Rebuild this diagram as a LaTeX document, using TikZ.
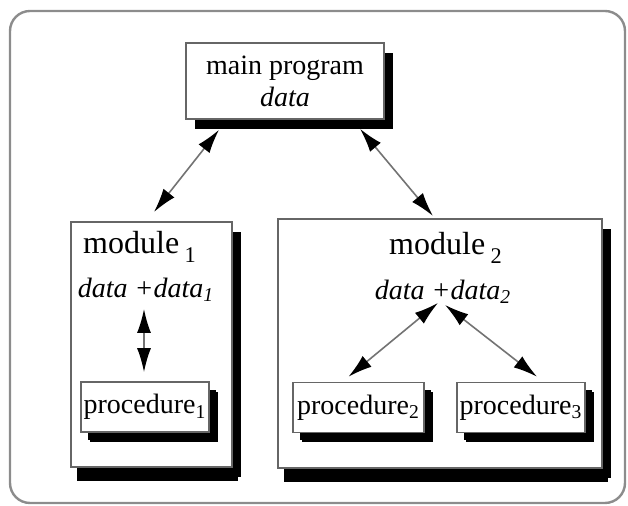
\documentclass[tikz,border=0pt]{standalone}
\usepackage{fontspec}
\setmainfont{Liberation Serif}
\usetikzlibrary{arrows.meta,shadows}

\tikzset{
	frame/.style={draw=black!45, line width=1.2pt, rounded corners=10pt},
	box/.style={draw=black!60, line width=0.8pt, fill=white, inner sep=0pt,
		drop shadow={shadow xshift=4.5pt, shadow yshift=-5pt, fill=black, opacity=1}},
	bigbox/.style={box, line width=1pt,
		drop shadow={shadow xshift=3pt, shadow yshift=-7pt, fill=black, opacity=1}},
	proc/.style={box, minimum height=25pt,
		drop shadow={shadow xshift=3.5pt, shadow yshift=-4pt, fill=black, opacity=1}},
	title/.style={font=\fontsize{16}{18}\selectfont},
	link/.style={draw=black!55, line width=0.8pt,
		{Latex[length=12pt,width=7pt,black]}-{Latex[length=12pt,width=7pt,black]}}
}

\begin{document}
\begin{tikzpicture}[x=0.5pt, y=-0.5pt, font=\fontsize{14}{16}\selectfont]
		\useasboundingbox (0,0) rectangle (628,506);
		\draw[frame] (10,11) rectangle (625,503);
		% boxes
		\node[box, minimum width=99pt, minimum height=38pt, align=center] (main) at (285,81) {main program\\\textit{data}};
		\node[bigbox, minimum width=80.5pt, minimum height=122.5pt] (mod1) at (151.5,344.5) {};
		\node[bigbox, minimum width=162pt, minimum height=124.5pt] (mod2) at (440,343.5) {};
		\node[proc, minimum width=64pt] (p1) at (145,407) {procedure\textsubscript{1}};
		\node[proc, minimum width=65.5pt] (p2) at (358.5,407.5) {procedure\textsubscript{2}};
		\node[proc, minimum width=64pt] (p3) at (521,407.5) {procedure\textsubscript{3}};
		% labels
		\node[title] (t1) at (140,247) {module\,\raisebox{-2pt}{\textsubscript{1}}};
		\node (d1) at (146,290) {\textit{data +data\textsubscript{1}}};
		\node[title] (t2) at (446,248) {module\,\raisebox{-2pt}{\textsubscript{2}}};
		\node (d2) at (443,292) {\textit{data +data\textsubscript{2}}};
		% arrows
		\draw[link] ([xshift=-33pt,yshift=-5pt]main.south) -- ([xshift=1.25pt,yshift=4.5pt]mod1.north);
		\draw[link] ([xshift=37.5pt,yshift=-4.5pt]main.south) -- ([xshift=-3.5pt,yshift=1pt]mod2.north);
		\draw[link] ([xshift=-1pt]d1.south) -- ([xshift=-0.5pt,yshift=4.5pt]p1.north);
		\draw[link] ([xshift=-2.5pt,yshift=4pt]d2.south) -- ([xshift=-5pt,yshift=2.5pt]p2.north);
		\draw[link] ([xshift=1pt,yshift=3pt]d2.south) -- ([xshift=8pt,yshift=2.5pt]p3.north);
	\end{tikzpicture}
\end{document}
